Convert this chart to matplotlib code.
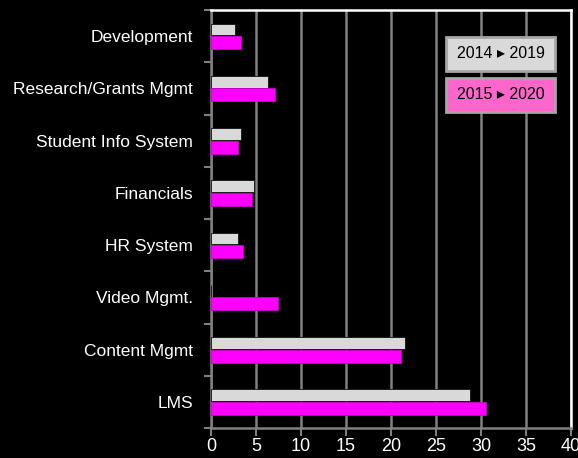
import numpy as np
import matplotlib
matplotlib.use("Agg")
import matplotlib.pyplot as plt
from matplotlib import font_manager
from matplotlib.patches import Rectangle

# data (bottom to top as drawn)
categories = ["LMS", "Content Mgmt", "Video Mgmt.", "HR System", "Financials",
              "Student Info System", "Research/Grants Mgmt", "Development"]
vals_2014 = [28.8, 21.6, 0.0, 3.0, 4.8, 3.3, 6.3, 2.7]
vals_2015 = [30.6, 21.1, 7.4, 3.6, 4.5, 3.0, 7.1, 3.3]
legend_labels = ["2014 \u25b8 2019", "2015 \u25b8 2020"]
legend_colors = ["#d9d9d9", "#ff66cc"]
xticks = [0, 5, 10, 15, 20, 25, 30, 35, 40]

names = {f.name for f in font_manager.fontManager.ttflist}
fam = "Liberation Sans Narrow" if "Liberation Sans Narrow" in names else "Liberation Sans"
plt.rcParams['font.family'] = [fam, 'DejaVu Sans']

fig = plt.figure(figsize=(5.78, 4.58), dpi=100, facecolor="black")
ax = fig.add_axes([211 / 578, 1 - 428 / 458, 360 / 578, 418 / 458])
ax.set_facecolor("black")

y = np.arange(len(categories))
h = 0.25
ax.barh(y + h / 2, vals_2014, height=h * 0.9, color="#d9d9d9", edgecolor="#111111", linewidth=0.6, zorder=3)
ax.barh(y - h / 2, vals_2015, height=h, color="#ff00ff", edgecolor="#cc00cc", linewidth=0.6, zorder=3)

ax.set_xlim(0, 40)
ax.set_ylim(-0.5, len(categories) - 0.5)
ax.set_xticks(xticks)
ax.set_xticklabels([str(t) for t in xticks], color="white", fontsize=13)
ax.set_yticks(np.arange(-0.5, len(categories), 1.0))
ax.set_yticklabels([])
ax.set_yticks(y, minor=True)
ax.set_yticklabels(categories, minor=True, color="white", fontsize=12.5)
ax.tick_params(axis="y", which="minor", length=0, pad=13)
ax.tick_params(axis="y", which="major", length=5, width=1.5, color="#808080")
ax.tick_params(axis="x", length=6, width=1.5, color="#808080", pad=1)

ax.grid(axis="x", color="#808080", linewidth=1.8, zorder=0)
for s in ["left", "bottom"]:
    ax.spines[s].set_color("#808080")
    ax.spines[s].set_linewidth(1.8)
for s in ["top", "right"]:
    ax.spines[s].set_color("white")
    ax.spines[s].set_linewidth(1.8)

# legend boxes
box_x, box_w, box_h = 0.653, 0.303, 0.080
for lab, col, top in zip(legend_labels, legend_colors, [0.935, 0.837]):
    ax.add_patch(Rectangle((box_x, top - box_h), box_w, box_h, transform=ax.transAxes,
                           facecolor=col, edgecolor="#a6a6a6", linewidth=2, zorder=5))
    ax.text(box_x + box_w / 2, top - box_h / 2, lab, transform=ax.transAxes,
            ha="center", va="center", fontsize=11.5, color="black", zorder=6)

fig.savefig("out.png", dpi=100, facecolor="black")
